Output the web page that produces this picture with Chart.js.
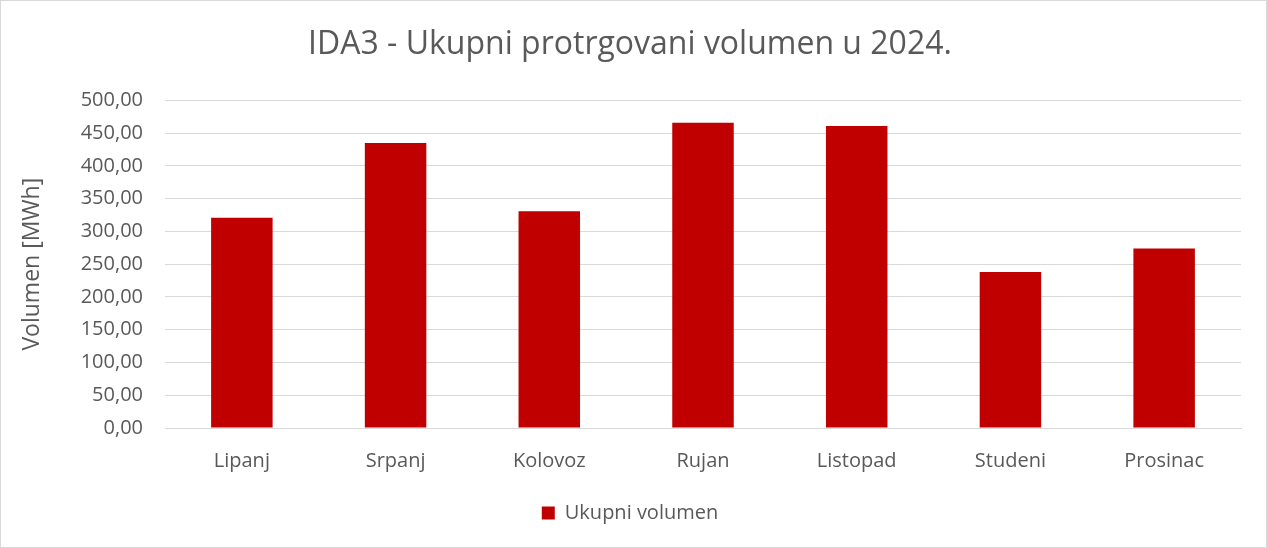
<!DOCTYPE html>
<html>
<head>
<meta charset="utf-8">
<script src="https://cdn.jsdelivr.net/npm/chart.js@4"></script>
<style>
  html, body { margin: 0; padding: 0; background: #fff; }
  .wrap {
    width: 1265px; height: 546px;
    border: 1px solid #d9d9d9;
    position: relative;
  }
</style>
</head>
<body>
<div class="wrap"><canvas id="ida3"></canvas></div>
<script>
// mjesečni ukupni volumen (MWh)
const months = ["Lipanj", "Srpanj", "Kolovoz", "Rujan", "Listopad", "Studeni", "Prosinac"];
const volumen = [321, 435, 331, 466, 461, 238, 274];
const seriesName = "Ukupni volumen";

const grey = "#595959";
const font = "'Open Sans', 'Noto Sans', sans-serif";

const fmt = (v) => v.toFixed(2).replace(".", ",");

new Chart(document.getElementById("ida3"), {
    type: "bar",
    data: {
        labels: months,
        datasets: [{
            label: seriesName,
            data: volumen,
            backgroundColor: "#c00000",
            categoryPercentage: 1,
            barPercentage: 0.4
        }]
    },
    options: {
        responsive: true,
        maintainAspectRatio: false,
        animation: false,
        layout: { padding: { left: 18, right: 25, top: 0, bottom: 14 } },
        plugins: {
            title: {
                display: true,
                text: "IDA3 - Ukupni protrgovani volumen u 2024.",
                color: grey,
                font: { family: font, size: 32, weight: "normal" },
                padding: { top: 25, bottom: 36 }
            },
            legend: {
                position: "bottom",
                labels: {
                    color: grey,
                    font: { family: font, size: 20 },
                    boxWidth: 13,
                    boxHeight: 13,
                    padding: 10
                }
            },
            tooltip: { enabled: false }
        },
        scales: {
            x: {
                grid: { display: false },
                border: { color: "#d9d9d9" },
                ticks: {
                    color: grey,
                    font: { family: font, size: 20 },
                    padding: 13
                },
                afterFit: (s) => { s.height = 65; }
            },
            y: {
                min: 0,
                max: 500,
                ticks: {
                    stepSize: 50,
                    color: grey,
                    font: { family: font, size: 20 },
                    padding: 22,
                    callback: (v) => fmt(v)
                },
                grid: { color: "#d9d9d9", drawTicks: false },
                border: { display: false },
                title: {
                    display: true,
                    text: "Volumen [MWh]",
                    color: grey,
                    font: { family: font, size: 23 },
                    padding: 0
                },
                afterFit: (s) => { s.width = 146; }
            }
        }
    }
});
</script>
</body>
</html>
